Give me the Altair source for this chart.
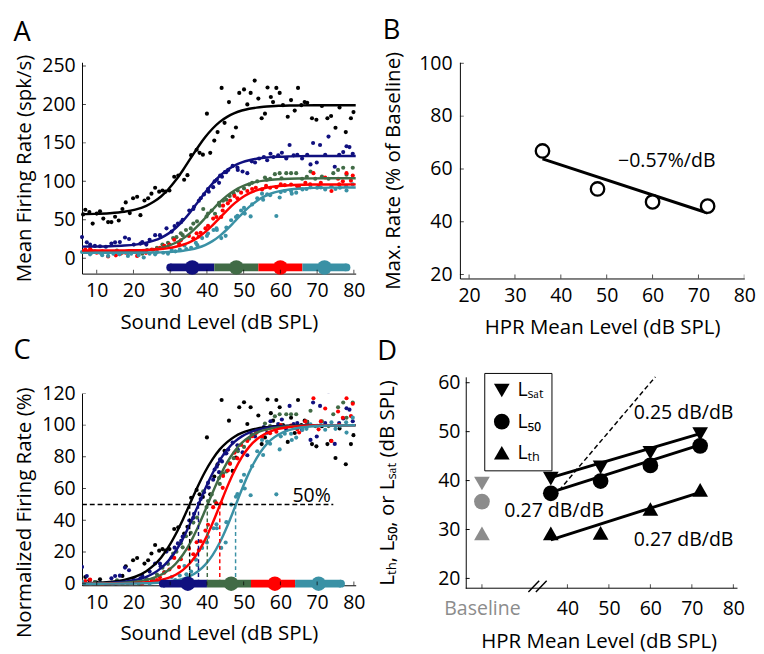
import altair as alt
import pandas as pd

FONT = "Open Sans"
TICK_FS = 20
TITLE_FS = 21

names = ["Baseline", "HPR36", "HPR48", "HPR60", "HPR72"]
colors = ["#000000", "#10107f", "#416b46", "#ff0000", "#3a91a5"]

# ---------------- Panel A scatter (sound level dB, rate spk/s) ----------------
black_x = [6.3, 6.9, 8.0, 8.9, 10.0, 10.9, 11.8, 13.1, 14.0, 15.0, 16.0, 17.0, 17.9, 19.0, 19.9, 21.0, 21.9,
           23.0, 24.0, 24.9, 25.9, 27.0, 27.9, 28.7, 29.8, 31.1, 32.2, 33.8, 34.7, 35.7, 37.2, 38.0, 38.9,
           40.0, 40.9, 42.0, 42.9, 44.0, 44.8, 46.0, 47.0, 47.9, 48.8, 50.1, 51.0, 51.9, 53.0, 54.0, 54.9,
           55.8, 56.5, 57.4, 58.0, 58.9, 59.8, 60.7, 62.0, 62.9, 63.9, 64.8, 65.7, 66.6, 67.3, 68.6, 69.8,
           71.3, 72.8, 73.8, 75.0, 76.1, 77.8, 79.2, 79.9]
black_y = [57, 63, 60, 45, 58, 61, 51.5, 47, 47, 54, 49, 64, 72.6, 58.7, 78, 80, 56,
           75, 78, 84, 91.6, 86.6, 88, 86.6, 88, 106, 107.6, 102, 108, 134, 141, 137, 134.7,
           188, 137, 153, 164, 221.5, 176, 203, 158, 170, 215, 219.5, 200, 215, 231, 207.6, 182,
           188, 222, 209.7, 203, 221.5, 215, 199, 184, 205.6, 192, 221.5, 199, 203, 202, 182, 180,
           198, 182, 185, 169.6, 196, 164, 182, 190]

navy_x = [6.0, 7.3, 8.2, 9.5, 10.9, 12.5, 14.0, 15.0, 16.3, 17.7, 18.8, 20.1, 21.9, 22.4, 23.5, 24.4, 25.9,
          27.2, 27.4, 29.0, 30.4, 31.2, 32.1, 33.0, 33.4, 35.2, 36.3, 36.5, 37.8, 38.3, 39.2, 40.3, 40.5,
          41.7, 42.1, 42.7, 43.3, 43.6, 44.1, 44.9, 45.3, 45.8, 47.0, 48.3, 48.4, 49.7, 51.0, 52.2, 53.1,
          54.2, 55.5, 56.4, 57.3, 58.1, 59.4, 60.4, 61.6, 62.5, 63.6, 64.6, 65.9, 67.3, 68.2, 68.9, 69.9,
          70.8, 72.2, 73.1, 74.8, 76.0, 77.1, 78.0, 78.8, 79.7]
navy_y = [27.5, 20.7, 17.7, 16, 15.6, 15, 19, 20.7, 21, 27, 25, 17.7, 19, 21, 17.7, 24, 30,
          30, 28, 38.9, 34.6, 41.8, 45, 47, 50, 62, 64, 67, 74.7, 78, 83, 90, 86.5,
          92.4, 100, 102, 98, 107.6, 106, 111.9, 112, 114.8, 120, 118, 114.8, 112.7, 110.6, 126, 124.5,
          129.6, 131.6, 127.4, 135.9, 131.6, 133.8, 137.2, 129.6, 147.3, 133.8, 134.6, 129.6, 134.6, 122, 149.8, 124.5,
          147.3, 134.6, 158.2, 119, 134.6, 138, 145.6, 144.5, 135.9]

green_x = [8.2, 9.5, 11.5, 13.6, 15.5, 17.0, 18.5, 19.4, 21.5, 22.4, 23.7, 25.4, 26.4, 27.9, 28.4, 29.4,
           30.8, 31.7, 32.9, 33.4, 34.3, 35.6, 36.3, 37.3, 39.0, 39.9, 40.3, 41.3, 42.2, 43.3, 43.5, 44.4,
           45.3, 46.2, 47.3, 48.4, 50.1, 51.5, 52.3, 53.7, 55.8, 56.3, 57.2, 58.5, 59.8, 60.3, 61.6, 62.9,
           64.3, 65.9, 67.2, 68.2, 69.5, 71.3, 73.1, 74.4, 75.7, 77.1, 78.0, 79.7]
green_y = [8.1, 9, 6, 8.1, 10, 7.3, 7, 9, 7.3, 6, 10.6, 11, 13.5, 17.7, 15, 20,
           26.2, 27.4, 32.5, 30, 36.7, 38.8, 45, 48, 64, 54.4, 58, 62, 57.8, 72, 68.4, 74.7,
           76, 81, 84, 88.2, 90.8, 95.8, 98, 100, 105, 102, 103.4, 109.3, 110.6, 104, 110.6, 110.6,
           110.6, 103.4, 106, 112.7, 103.4, 106.3, 103.4, 110.6, 114.8, 117.7, 108.5, 117.7]

red_x = [6.9, 8.2, 8.5, 10.0, 11.5, 13.1, 15.2, 16.5, 17.9, 19.4, 21.0, 22.4, 23.4, 25.0, 26.4, 27.2,
         28.4, 29.8, 31.1, 32.4, 32.9, 35.1, 36.3, 37.2, 37.8, 38.3, 39.6, 40.3, 41.7, 42.6, 43.9, 44.3,
         44.4, 45.7, 46.3, 47.5, 48.3, 49.3, 51.0, 52.3, 53.3, 55.0, 56.1, 57.2, 58.9, 60.1, 61.2, 62.9,
         64.6, 65.1, 66.8, 68.1, 69.0, 70.4, 71.0, 72.2, 73.9, 75.7, 76.0, 77.0, 78.0, 79.2, 79.7]
red_y = [11.4, 12.2, 10, 7.2, 9, 2.2, 3.8, 6, 7.2, 8, 3, 9, 7, 11.4, 12, 13.5,
         16, 17.7, 24, 19, 23.3, 29, 26, 32.5, 28.3, 33, 38.8, 42, 51.5, 53.6, 53.6, 62,
         68.4, 71.4, 75, 81, 78, 85.3, 87.4, 90, 91.6, 89.5, 94, 91.6, 92.4, 96, 95, 95.8,
         93.7, 92, 98, 96, 110.6, 93.7, 98, 105, 87.4, 103.4, 96, 100, 110.6, 100.9, 107.6]

teal_x = [6.0, 8.2, 8.5, 10.9, 11.5, 13.1, 14.5, 16.2, 17.5, 18.5, 19.4, 20.6, 21.4, 22.8, 24.4, 25.9,
          26.4, 28.1, 29.4, 30.4, 31.4, 32.6, 33.9, 34.4, 35.7, 37.0, 37.4, 38.7, 40.0, 40.3, 41.8, 42.6,
          42.7, 43.9, 45.1, 45.3, 46.6, 47.9, 48.3, 49.3, 50.1, 50.3, 51.9, 52.3, 53.7, 55.0, 55.3, 56.4,
          57.2, 58.9, 59.8, 60.1, 61.2, 62.9, 63.1, 64.3, 66.0, 67.1, 68.2, 70.0, 71.0, 72.2, 73.9, 75.0,
          76.2, 77.9, 78.0, 79.7]
teal_y = [8.1, 5.1, 7, 7.2, 4, 3, 6, 5.1, 8, 3, 6, 8.1, 4, 0.9, 6, 5.1,
          8, 7.2, 6, 10.6, 9, 11.4, 16.5, 12, 13.5, 19.9, 17, 26.2, 29.1, 32, 36.7, 38.8,
          36.7, 26.2, 29.1, 40, 49.4, 53.6, 55, 62, 65.4, 58, 54.4, 70, 78, 84, 76, 83.2,
          82, 54.9, 79, 86, 87.4, 87.4, 84, 85.3, 89.5, 90, 92.4, 91.6, 92, 89.5, 93.5, 90,
          91.6, 93.5, 88, 96]

# sigmoid fit: floor / ceiling (spk/s), normalized curve (%)
fit_min = [57, 15, 8, 10, 7]
fit_max = [199, 133, 104, 96, 92]
curve_x = [6, 9.5, 13.5, 17.5, 20.5, 23.5, 25.5, 27.5, 29.5, 31.5, 33.5, 35.5, 37.5, 39.5, 41.5,
           43.5, 45.5, 47.5, 49.5, 51.5, 53.5, 55.5, 57.5, 59.5, 62.5, 65.5, 69.5, 74.5, 80.5]
curve_black = [0.25, 0.46, 1.06, 2.39, 4.38, 7.89, 11.5, 16.4, 23.0, 31.2, 40.7, 51.0, 61.3, 70.6, 78.4,
               84.7, 89.3, 92.7, 95.1, 96.7, 97.8, 98.5, 99.0, 99.4, 99.7, 99.8, 99.9, 100, 100]
curve_navy = [0.11, 0.22, 0.52, 1.23, 2.32, 4.37, 6.59, 9.82, 14.4, 20.6, 28.6, 38.3, 48.9, 59.7, 69.5,
              77.9, 84.5, 89.4, 92.9, 95.3, 96.9, 97.95, 98.7, 99.1, 99.5, 99.8, 99.9, 100, 100]
curve_green = [0.06, 0.11, 0.27, 0.64, 1.24, 2.39, 3.67, 5.62, 8.49, 12.6, 18.4, 26.0, 35.4, 46.1, 57.2,
               67.6, 76.5, 83.5, 88.8, 92.5, 95.1, 96.8, 97.9, 98.6, 99.3, 99.6, 99.85, 99.95, 100]
curve_red = [0.02, 0.04, 0.09, 0.23, 0.46, 0.93, 1.46, 2.31, 3.63, 5.65, 8.72, 13.2, 19.5, 27.8, 38.0,
             49.4, 60.9, 71.2, 79.8, 86.3, 90.9, 94.1, 96.2, 97.6, 98.8, 99.4, 99.76, 99.92, 100]
curve_teal = [0.005, 0.01, 0.03, 0.07, 0.15, 0.30, 0.48, 0.77, 1.24, 1.98, 3.14, 4.96, 7.75, 11.9, 17.9,
              26.0, 36.1, 47.6, 59.4, 70.2, 79.1, 85.9, 90.8, 94.1, 97.0, 98.5, 99.4, 99.8, 99.95]
l50 = [35.3, 37.7, 40.1, 43.5, 47.8]

# HPR level bars (A and C)
barA_lo = [30, 42, 54, 66]
barA_hi = [42, 54, 66, 78]
barA_dot = [36, 48, 60, 72]
barA_y = -12
barC_lo = [28, 40, 52, 64]
barC_hi = [40, 52, 64, 76.5]
barC_dot = [34.8, 46.6, 58.5, 70.4]
barC_y = 0

# ---------------- Panel B ----------------
hpr = [36, 48, 60, 72]
max_rate = [66.8, 52.4, 47.5, 45.9]
b_fit_x = [36, 72]
b_fit_y = [63.8, 43.3]

# ---------------- Panel D ----------------
lsat = [40.4, 42.7, 45.7, 49.5]
l50_pts = [37.4, 39.9, 43.1, 47.1]
lth = [29.2, 29.3, 34.2, 38.1]
base_x = 19.4
base_vals = [39.4, 35.7, 29.2]
fit_lsat = [40.6, 49.6]
fit_l50 = [37.6, 47.3]
fit_lth = [27.9, 37.6]
unity = [38, 61.2]
meas = ["L\u209b\u2090\u209c", "L\u2085\u2080", "L\u209c\u2095"]
shapes = ["triangle-down", "circle", "triangle-up"]

# ---------------- tables ----------------
rows = []
for n, xs, ys, lo, hi in zip(names, [black_x, navy_x, green_x, red_x, teal_x],
                             [black_y, navy_y, green_y, red_y, teal_y], fit_min, fit_max):
    for x, y in zip(xs, ys):
        rows.append({"s": n, "x": x, "y": y, "pct": (y - lo) / (hi - lo) * 100})
pts = pd.DataFrame(rows)

crow = []
for n, cv, lo, hi in zip(names, [curve_black, curve_navy, curve_green, curve_red, curve_teal], fit_min, fit_max):
    for x, p in zip(curve_x, cv):
        crow.append({"s": n, "x": x, "pct": p, "y": lo + p * (hi - lo) / 100})
curves = pd.DataFrame(crow)

COL = alt.Color("s:N", scale=alt.Scale(domain=names, range=colors), legend=None)


def axis(title, values, **kw):
    base = dict(title=title, values=values, ticks=False, grid=False, domainColor="black",
                domainWidth=1, labelColor="black", titleColor="black", labelFontSize=TICK_FS,
                titleFontSize=TITLE_FS, titleFontWeight="normal", labelFlush=False, labelOverlap=False,
                labelPadding=6, titlePadding=6, labelFont=FONT, titleFont=FONT, labelFontWeight="normal")
    base.update(kw)
    return alt.Axis(**base)


def ptitle(t, off):
    return alt.TitleParams(t, anchor="start", frame="bounds", fontSize=28, fontWeight="normal",
                           font=FONT, color="black", offset=off)


def xticks(X, xt, h):
    return alt.Chart(pd.DataFrame({"x": xt})).mark_tick(
        clip=True, color="black", thickness=1, size=8, orient="vertical").encode(x=X, y=alt.value(h))


def yticks(Y, field, yt):
    return alt.Chart(pd.DataFrame({field: yt})).mark_tick(
        clip=True, color="black", thickness=1, size=8, orient="horizontal").encode(y=Y, x=alt.value(0))


def hpr_bar(X, Y, yfield, lo, hi, dots, yv):
    segs = pd.DataFrame({"s": names[1:], "x": lo, "x2": hi, yfield: [yv] * 4})
    ends = pd.DataFrame({"s": [names[1], names[4]], "x": [lo[0], hi[3]], yfield: [yv, yv]})
    dd = pd.DataFrame({"s": names[1:], "x": dots, yfield: [yv] * 4})
    l1 = alt.Chart(segs).mark_rule(strokeWidth=8, strokeCap="butt").encode(x=X, x2="x2:Q", y=Y, color=COL)
    l2 = alt.Chart(ends).mark_circle(size=64, opacity=1).encode(x=X, y=Y, color=COL)
    l3 = alt.Chart(dd).mark_circle(size=225, opacity=1).encode(x=X, y=Y, color=COL)
    return [l1, l2, l3]


xs_level = list(range(10, 81, 10))

# ---------------- Panel A ----------------
WA, HA = 281, 217
XA = alt.X("x:Q", scale=alt.Scale(domain=[6, 80.5], nice=False, zero=False),
           axis=axis("Sound Level (dB SPL)", xs_level, labelPadding=8, titlePadding=11))
YA = alt.Y("y:Q", scale=alt.Scale(domain=[-20, 254.8], nice=False, zero=False),
           axis=axis("Mean Firing Rate (spk/s)", [0, 50, 100, 150, 200, 250], labelPadding=7, titlePadding=8))
a_pts = alt.Chart(pts).mark_circle(size=18, opacity=1).encode(x=XA, y=YA, color=COL)
a_cur = alt.Chart(curves).mark_line(strokeWidth=2.5, interpolate="monotone").encode(x=XA, y=YA, color=COL)
A = alt.layer(a_pts, a_cur, *hpr_bar(XA, YA, "y", barA_lo, barA_hi, barA_dot, barA_y),
              xticks(XA, xs_level, HA), yticks(YA, "y", [0, 50, 100, 150, 200, 250])).properties(
    width=WA, height=HA, title=ptitle("A", 7))

# ---------------- Panel B ----------------
WB, HB = 292, 222
XB = alt.X("x:Q", scale=alt.Scale(domain=[18, 80], nice=False, zero=False),
           axis=axis("HPR Mean Level (dB SPL)", list(range(20, 81, 10)), labelPadding=8, titlePadding=11))
YB = alt.Y("y:Q", scale=alt.Scale(domain=[18.5, 100.4], nice=False, zero=False),
           axis=axis("Max. Rate (% of Baseline)", [20, 40, 60, 80, 100], labelPadding=8, titlePadding=16))
b_line = alt.Chart(pd.DataFrame({"x": b_fit_x, "y": b_fit_y})).mark_line(
    strokeWidth=3, color="black").encode(x=XB, y=YB)
b_pts = alt.Chart(pd.DataFrame({"x": hpr, "y": max_rate})).mark_point(
    shape="circle", size=190, fill="white", fillOpacity=1, stroke="black", strokeWidth=2.4, opacity=1
).encode(x=XB, y=YB)
b_txt = alt.Chart(pd.DataFrame({"x": [63.1], "y": [62.9], "t": ["\u22120.57%/dB"]})).mark_text(
    fontSize=20, font=FONT, color="black", align="center", baseline="middle").encode(x=XB, y=YB, text="t:N")
B = alt.layer(b_line, b_pts, b_txt, xticks(XB, list(range(20, 81, 10)), HB),
              yticks(YB, "y", [20, 40, 60, 80, 100])).properties(
    width=WB, height=HB, title=ptitle("B", 7))

# ---------------- Panel C ----------------
WC, HC = 281, 197
XC = alt.X("x:Q", scale=alt.Scale(domain=[6, 80.5], nice=False, zero=False),
           axis=axis("Sound Level (dB SPL)", xs_level, labelPadding=8, titlePadding=11))
YC = alt.Y("pct:Q", scale=alt.Scale(domain=[-1, 120], nice=False, zero=False),
           axis=axis("Normalized Firing Rate (%)", [0, 20, 40, 60, 80, 100, 120], labelPadding=7,
                     titlePadding=8, titleY=122))
c_pts = alt.Chart(pts).mark_circle(size=18, opacity=1, clip=True).encode(x=XC, y=YC, color=COL)
c_cur = alt.Chart(curves).mark_line(strokeWidth=2.5, interpolate="monotone", clip=True).encode(
    x=XC, y=YC, color=COL)
c_h = alt.Chart(pd.DataFrame({"x": [6], "x2": [74.4], "pct": [50]})).mark_rule(
    strokeDash=[5, 3], strokeWidth=1.5, color="black").encode(x=XC, x2="x2:Q", y=YC)
c_v = alt.Chart(pd.DataFrame({"s": names, "x": l50, "pct": [0] * 5, "p2": [50] * 5})).mark_rule(
    strokeDash=[4, 3], strokeWidth=1.5).encode(x=XC, y=YC, y2="p2:Q", color=COL)
c_txt = alt.Chart(pd.DataFrame({"x": [68.5], "pct": [55.3], "t": ["50%"]})).mark_text(
    fontSize=20, font=FONT, color="black", align="center", baseline="middle").encode(x=XC, y=YC, text="t:N")
C = alt.layer(c_pts, c_cur, c_h, c_v, c_txt, *hpr_bar(XC, YC, "pct", barC_lo, barC_hi, barC_dot, barC_y),
              xticks(XC, xs_level, HC), yticks(YC, "pct", [0, 20, 40, 60, 80, 100, 120])).properties(
    width=WC, height=HC, title=ptitle("C", 19))

# ---------------- Panel D ----------------
WD, HD = 285, 217
d_xt = [base_x, 40, 50, 60, 70, 80]
d_left = 15.5
XD = alt.X("x:Q", scale=alt.Scale(domain=[14.09, 81], nice=False, zero=False),
           axis=axis("HPR Mean Level (dB SPL)", d_xt, labelPadding=11, titlePadding=13, domain=False,
                     labelExpr="datum.value < 30 ? 'Baseline' : datum.label",
                     labelColor={"condition": {"test": "datum.value < 30", "value": "#8c8c8c"},
                                 "value": "black"}))
YD = alt.Y("y:Q", scale=alt.Scale(domain=[18, 61.2], nice=False, zero=False),
           axis=axis("L\u209c\u2095, L\u2085\u2080, or L\u209b\u2090\u209c (dB SPL)", [20, 30, 40, 50, 60],
                     offset=-6, titlePadding=41))
d_xline = alt.Chart(pd.DataFrame({"x": [d_left], "x2": [81], "y": [18]})).mark_rule(
    strokeWidth=1, color="black").encode(x=XD, x2="x2:Q", y=YD)
d_unity = alt.Chart(pd.DataFrame({"x": unity, "y": unity})).mark_line(
    strokeDash=[5, 3], strokeWidth=1.5, color="black").encode(x=XD, y=YD)
fits = pd.DataFrame({"m": [meas[0]] * 2 + [meas[1]] * 2 + [meas[2]] * 2,
                     "x": [36, 72] * 3, "y": fit_lsat + fit_l50 + fit_lth})
d_fit = alt.Chart(fits).mark_line(strokeWidth=3, color="black").encode(x=XD, y=YD, detail="m:N")
dpts = pd.DataFrame({"m": [meas[0]] * 4 + [meas[1]] * 4 + [meas[2]] * 4,
                     "x": hpr * 3, "y": lsat + l50_pts + lth})
d_pts = alt.Chart(dpts).mark_point(filled=True, color="black", opacity=1, size=260).encode(
    x=XD, y=YD,
    shape=alt.Shape("m:N", scale=alt.Scale(domain=meas, range=shapes),
                    legend=alt.Legend(title=None, orient="none", legendX=25, legendY=-4,
                                      strokeColor="black", fillColor="white", padding=8,
                                      labelFontSize=20, labelFont=FONT, labelColor="black",
                                      symbolSize=260, symbolFillColor="black", symbolStrokeColor="black",
                                      symbolStrokeWidth=0, rowPadding=12, labelOffset=6)))
d_base = alt.Chart(pd.DataFrame({"m": meas, "x": [base_x] * 3, "y": base_vals})).mark_point(
    filled=True, color="#8c8c8c", opacity=1, size=260).encode(
    x=XD, y=YD, shape=alt.Shape("m:N", scale=alt.Scale(domain=meas, range=shapes), legend=None))
d_txt = alt.Chart(pd.DataFrame({"x": [68, 36.8, 68], "y": [53.7, 33.8, 27.8],
                                "t": ["0.25 dB/dB", "0.27 dB/dB", "0.27 dB/dB"]})).mark_text(
    fontSize=20, font=FONT, color="black", align="center", baseline="middle").encode(x=XD, y=YD, text="t:N")
slash = pd.DataFrame({"x": [30.6, 32.4], "y": [17.2, 17.2], "x2": [33.2, 35.0], "y2": [19.5, 19.5]})
d_sl = alt.Chart(slash).mark_rule(strokeWidth=1.5, color="black").encode(x=XD, y=YD, x2="x2:Q", y2="y2:Q")
d_yt = alt.Chart(pd.DataFrame({"y": [20, 30, 40, 50, 60]})).mark_rule(color="black", strokeWidth=1).encode(
    y=YD, x=alt.value(6), x2=alt.value(10))
D = alt.layer(d_xline, d_unity, d_fit, d_base, d_pts, d_txt, d_sl,
              xticks(XD, [base_x, 40, 50, 60, 70, 80], HD), d_yt).resolve_scale(
    shape="independent").properties(width=WD, height=HD, title=ptitle("D", 7))

left = alt.vconcat(A, C, spacing=6)
right = alt.vconcat(B, D, spacing=1)
chart = alt.hconcat(left, right, spacing=12).properties(
    padding={"left": 5, "top": 0, "right": 0, "bottom": 0}
).configure(font=FONT).configure_view(strokeWidth=0)

chart.save("out.html", embed_options={"renderer": "svg", "actions": False})
